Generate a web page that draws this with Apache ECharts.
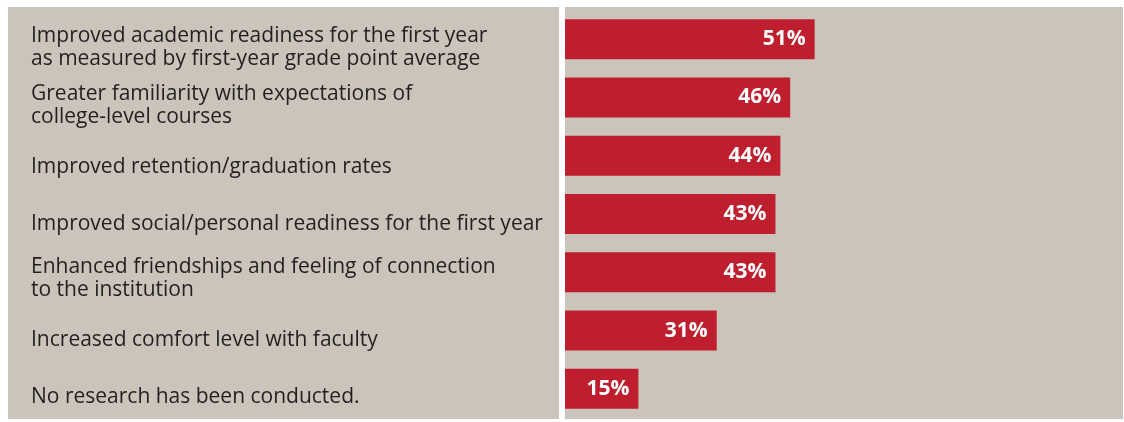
<!DOCTYPE html>
<html>
<head>
<meta charset="utf-8">
<script src="https://cdn.jsdelivr.net/npm/echarts@6/dist/echarts.min.js"></script>
<style>
html,body{margin:0;padding:0;background:#ffffff;}
#chart{width:1124px;height:422px;}
</style>
</head>
<body>
<div id="chart"></div>
<script>
const categories = [
  'Improved academic readiness for the first year\nas measured by first-year grade point average',
  'Greater familiarity with expectations of\ncollege-level courses',
  'Improved retention/graduation rates',
  'Improved social/personal readiness for the first year',
  'Enhanced friendships and feeling of connection\nto the institution',
  'Increased comfort level with faculty',
  'No research has been conducted.'
];
const values = [51, 46, 44, 43, 43, 31, 15];

const chart = echarts.init(document.getElementById('chart'), null, {renderer: 'canvas'});
const BG = '#cbc4ba';
const TXT = '#231f20';
chart.setOption({
  backgroundColor: '#ffffff',
  animation: false,
  graphic: [
    {type: 'rect', shape: {x: 8, y: 7, width: 551, height: 412}, style: {fill: BG}, z: -10, silent: true},
    {type: 'rect', shape: {x: 565, y: 7, width: 558, height: 412}, style: {fill: BG}, z: -10, silent: true}
  ],
  grid: [
    {left: 565, width: 558, top: 10, height: 408, containLabel: false},
    {left: 565, width: 558, top: 19, height: 408, containLabel: false}
  ],
  xAxis: [
    {gridIndex: 0, type: 'value', min: 0, max: 114, show: false},
    {gridIndex: 1, type: 'value', min: 0, max: 114, show: false}
  ],
  yAxis: [
    {
      gridIndex: 0, type: 'category', data: categories, inverse: true,
      axisLine: {show: false}, axisTick: {show: false}, splitLine: {show: false},
      axisLabel: {show: false}
    },
    {
      gridIndex: 1, type: 'category', data: categories, inverse: true,
      axisLine: {show: false}, axisTick: {show: false}, splitLine: {show: false},
      axisLabel: {
        interval: 0, align: 'left', verticalAlign: 'middle', margin: 534,
        fontFamily: 'Open Sans', fontSize: 21, color: TXT, lineHeight: 23,
        formatter: function (v) { return v.indexOf('\n') >= 0 ? v : '{s|' + v + '}'; },
        rich: {
          s: {fontFamily: 'Open Sans', fontSize: 21, color: TXT, lineHeight: 23, padding: [8, 0, 0, 0]}
        }
      }
    }
  ],
  series: [{
    type: 'bar', xAxisIndex: 0, yAxisIndex: 0, data: values, barWidth: 40,
    itemStyle: {color: '#be1e2d'},
    label: {
      show: true, position: 'insideRight', distance: 9,
      formatter: '{c}%', color: '#ffffff', fontWeight: 'bold',
      fontFamily: 'Open Sans', fontSize: 21
    }
  }]
});
</script>
</body>
</html>
